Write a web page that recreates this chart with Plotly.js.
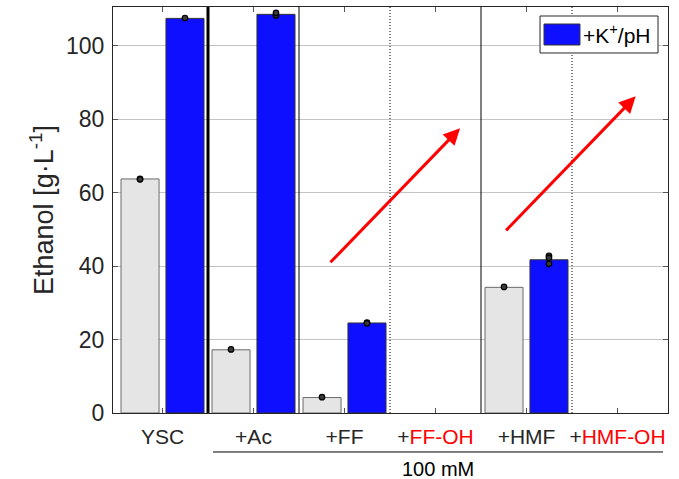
<!DOCTYPE html>
<html>
<head>
<meta charset="utf-8">
<script src="https://cdn.plot.ly/plotly-3.0.1.min.js"></script>
<style>
  html, body { margin: 0; padding: 0; background: #fff; }
  #chart { width: 679px; height: 479px; }
</style>
</head>
<body>
<div id="chart"></div>
<script>
// Conditions along the x axis
const categories = ['YSC', '+Ac', '+FF', '+FF-OH', '+HMF', '+HMF-OH'];
const tickLabels = ['YSC', '+Ac', '+FF', '+<span style="color:#ff0000">FF-OH</span>',
                    '+HMF', '+<span style="color:#ff0000">HMF-OH</span>'];

// Mean ethanol titres (g/L); null = not measured
const baseMeans = [63.7, 17.2, 4.2, null, 34.2, null];
const kphMeans  = [107.4, 108.5, 24.5, null, 41.7, null];

// Individual replicates per condition
const baseReps = [[63.7, 63.6], [17.3], [4.3], [], [34.3], []];
const kphReps  = [[107.5], [108.2, 108.9], [24.6, 24.4], [], [42.8, 42.2, 40.6], []];

const seriesName = '+K<sup>+</sup>/pH';

const xIdx = categories.map((_, i) => i);
const barW = 0.418;
const offBase = -0.456, offKph = 0.038;

function repPoints(reps, shift) {
  const xs = [], ys = [];
  reps.forEach((r, i) => r.forEach(v => { xs.push(i + shift); ys.push(v); }));
  return {xs, ys};
}
const bp = repPoints(baseReps, offBase + barW / 2);
const kp = repPoints(kphReps, offKph + barW / 2);

const txt = '#262626';
const font = 'Liberation Sans, Arial, Helvetica, sans-serif';

const dotStyle = {symbol: 'circle', size: 5.5, color: '#3a3a3a', line: {color: '#000', width: 1.2}};

const traces = [
  {
    type: 'bar', x: xIdx, y: baseMeans, width: barW, offset: offBase,
    marker: {color: '#e5e5e5', line: {color: '#6a6a6a', width: 1}},
    showlegend: false, hoverinfo: 'y'
  },
  {
    type: 'bar', x: xIdx, y: kphMeans, width: barW, offset: offKph, name: seriesName,
    marker: {color: '#0f0fff', line: {color: '#333333', width: 1}},
    showlegend: false, hoverinfo: 'y'
  },
  {type: 'scatter', mode: 'markers', x: bp.xs, y: bp.ys, marker: dotStyle, showlegend: false, hoverinfo: 'y'},
  {type: 'scatter', mode: 'markers', x: kp.xs, y: kp.ys, marker: dotStyle, showlegend: false, hoverinfo: 'y'}
];

// Group separators between conditions
const separators = [
  {x: 0.5, width: 3, dash: 'solid'},
  {x: 1.5, width: 1, dash: 'solid'},
  {x: 2.5, width: 1, dash: '1px,2px'},
  {x: 3.5, width: 1, dash: 'solid'},
  {x: 4.5, width: 1, dash: '1px,2px'}
];

const shapes = separators.map(s => ({
  type: 'line', xref: 'x', yref: 'paper', x0: s.x, x1: s.x, y0: 0, y1: 1,
  line: {color: '#000', width: s.width, dash: s.dash}, layer: 'above'
}));

// Bracket under the 100 mM additions
shapes.push({
  type: 'line', xref: 'x', yref: 'paper', x0: 0.555, x1: 5.5, y0: -0.096, y1: -0.096,
  line: {color: '#000', width: 1}
});

// Legend box
shapes.push({
  type: 'rect', xref: 'paper', yref: 'paper', x0: 0.7694, x1: 0.982, y0: 0.8867, y1: 0.9778,
  fillcolor: '#ffffff', line: {color: '#262626', width: 1}, layer: 'above'
});
shapes.push({
  type: 'rect', xref: 'paper', yref: 'paper', x0: 0.7766, x1: 0.8414, y0: 0.9064, y1: 0.9581,
  fillcolor: '#0f0fff', line: {color: '#333', width: 1}, layer: 'above'
});

const annotations = [
  {
    xref: 'paper', yref: 'paper', x: 0.843, y: 0.9335, xanchor: 'left', yanchor: 'middle',
    text: seriesName, showarrow: false, font: {family: font, size: 21, color: '#000'}
  },
  {
    xref: 'x', yref: 'paper', x: 3.03, y: -0.137, yanchor: 'middle',
    text: '100 mM', showarrow: false, font: {family: font, size: 20, color: '#000'}
  },
  {
    xref: 'x', yref: 'y', axref: 'x', ayref: 'y',
    x: 3.27, y: 77.5, ax: 1.83, ay: 40.6, text: '',
    showarrow: true, arrowhead: 2, arrowsize: 1.1, arrowwidth: 3, arrowcolor: '#ff0000'
  },
  {
    xref: 'x', yref: 'y', axref: 'x', ayref: 'y',
    x: 5.20, y: 86.2, ax: 3.76, ay: 49.3, text: '',
    showarrow: true, arrowhead: 2, arrowsize: 1.1, arrowwidth: 3, arrowcolor: '#ff0000'
  }
];

const layout = {
  width: 679, height: 479,
  margin: {l: 113, r: 11, t: 7, b: 66},
  paper_bgcolor: '#ffffff', plot_bgcolor: '#ffffff',
  font: {family: font, color: txt},
  showlegend: false,
  bargap: 0,
  xaxis: {
    range: [-0.544, 5.555], tickvals: xIdx, ticktext: tickLabels,
    ticks: 'inside', ticklen: 5, tickcolor: '#555', tickwidth: 1,
    ticklabelstandoff: 5,
    showgrid: false, zeroline: false,
    showline: true, mirror: 'ticks', linecolor: '#262626', linewidth: 1,
    tickfont: {family: font, size: 21, color: txt}
  },
  yaxis: {
    range: [0, 110.5], tickvals: [0, 20, 40, 60, 80, 100],
    ticks: 'inside', ticklen: 5, tickcolor: '#555', tickwidth: 1,
    ticklabelstandoff: 3,
    showgrid: true, gridcolor: '#c4c4c4', gridwidth: 1, zeroline: false,
    showline: true, mirror: 'ticks', linecolor: '#262626', linewidth: 1,
    tickfont: {family: font, size: 23, color: txt},
    title: {text: 'Ethanol [g·L<sup>-1</sup>]', font: {family: font, size: 27, color: txt}, standoff: 4}
  },
  shapes: shapes,
  annotations: annotations
};

Plotly.newPlot('chart', traces, layout, {displayModeBar: false, staticPlot: true});
</script>
</body>
</html>
